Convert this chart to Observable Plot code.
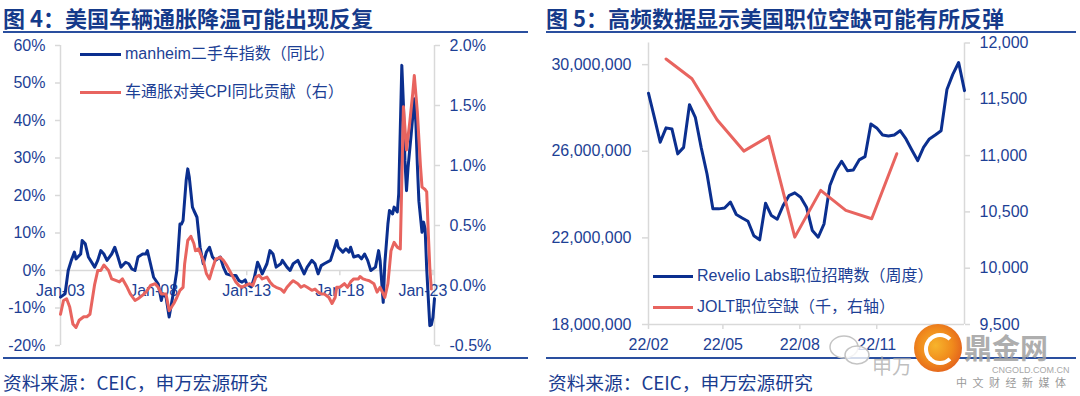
<!DOCTYPE html>
<html>
<head>
<meta charset="utf-8">
<script src="https://cdn.jsdelivr.net/npm/d3@7"></script>
<script src="https://cdn.jsdelivr.net/npm/@observablehq/plot@0.6"></script>
<style>
  html, body { margin: 0; padding: 0; background: #fff; }
  #wrap { position: relative; width: 1080px; height: 396px; overflow: hidden; background: #fff;
          font-family: "Liberation Sans", "Noto Sans CJK SC", Arial, sans-serif; }
  .title { position: absolute; top: 5px; font-family: "Noto Sans CJK SC", sans-serif; font-weight: 700;
           font-size: 22px; line-height: 24px; color: #153a8a; white-space: nowrap; }
  .rule { position: absolute; height: 2px; background: #2a4f9f; }
  .foot { position: absolute; top: 372px; font-family: "Noto Sans CJK SC", sans-serif; font-size: 18.7px;
          line-height: 20px; color: #1a3c8f; white-space: nowrap; }
  .chart { position: absolute; top: 35px; }
  .chart svg { overflow: visible; }
  .leg { position: absolute; font-size: 16px; line-height: 20px; color: #1d3f95; white-space: nowrap;
         font-family: "Liberation Sans", "Noto Sans CJK SC", sans-serif; }
  .legline { position: absolute; height: 3px; }
  .wm { position: absolute; white-space: nowrap; font-family: "Liberation Sans", "Noto Sans CJK SC", sans-serif; }
</style>
</head>
<body>
<div id="wrap">
  <div class="title" style="left:3px">图 4：美国车辆通胀降温可能出现反复</div>
  <div class="title" style="left:546px">图 5：高频数据显示美国职位空缺可能有所反弹</div>
  <div class="rule" style="left:3px; width:525px; top:31px"></div>
  <div class="rule" style="left:546px; width:530px; top:31px"></div>
  <div class="rule" style="left:3px; width:525px; top:357px"></div>
  <div class="rule" style="left:546px; width:530px; top:357px"></div>
  <div id="left" class="chart" style="left:0px"></div>
  <div id="right" class="chart" style="left:540px"></div>

  <div class="legline" style="left:80px; width:41px; top:53px; background:#0b2f8f"></div>
  <div class="leg" style="left:125px; top:44px">manheim二手车指数（同比）</div>
  <div class="legline" style="left:80px; width:41px; top:91px; background:#e8645f"></div>
  <div class="leg" style="left:125px; top:82px">车通胀对美CPI同比贡献（右）</div>

  <div class="legline" style="left:653px; width:40px; top:275px; background:#0b2f8f"></div>
  <div class="leg" style="left:697px; top:266px">Revelio Labs职位招聘数（周度）</div>
  <div class="legline" style="left:653px; width:40px; top:306px; background:#e8645f"></div>
  <div class="leg" style="left:697px; top:297px">JOLT职位空缺（千，右轴）</div>

  <div class="foot" style="left:3px">资料来源：CEIC，申万宏源研究</div>
  <div class="foot" style="left:548px">资料来源：CEIC，申万宏源研究</div>

  <!-- watermark -->
  <svg class="wm" style="left:828px; top:334px" width="44" height="34">
    <ellipse cx="16" cy="13" rx="14" ry="11" fill="none" stroke="#c4c4c4" stroke-width="1.5"/>
    <ellipse cx="29" cy="21" rx="12" ry="9" fill="rgba(255,255,255,0.8)" stroke="#c4c4c4" stroke-width="1.5"/>
  </svg>
  <div class="wm" style="left:872px; top:357px; font-size:20px; line-height:20px; color:rgba(170,170,170,0.75)">申万</div>
  <div class="wm" style="left:914px; top:324px; width:48px; height:48px; border-radius:50%;
       background:radial-gradient(circle at 45% 45%, #f7b42c 0%, #f08a1c 45%, #d9431e 100%)"></div>
  <div class="wm" style="left:924px; top:333px; width:24px; height:24px; border-radius:50%; border:4px solid #fff; border-right-color:transparent"></div>
  <div class="wm" style="left:964px; top:336px; font-size:28px; line-height:28px; font-weight:700; color:rgba(160,160,160,0.85)">鼎金网</div>
  <div class="wm" style="left:992px; top:366px; font-size:9px; line-height:9px; color:#a8a8a8">CNGOLD.COM.CN</div>
  <div class="wm" style="left:956px; top:378px; font-size:11px; line-height:11px; color:#9a9a9a; letter-spacing:5.5px">中文财经新媒体</div>
</div>

<script>
// ---------------- Figure 4 data (monthly) ----------------
const manheimMonths = [
  "2003-01","2003-04","2003-06","2003-08","2003-10","2003-11","2004-02","2004-03","2004-05","2004-07",
  "2004-11","2005-01","2005-03","2005-05","2005-07","2005-10","2005-12","2006-02","2006-04","2006-07",
  "2006-09","2006-11","2007-01","2007-03","2007-06","2007-08","2007-09","2007-11","2008-01","2008-04",
  "2008-06","2008-07","2008-09","2008-11","2009-02","2009-04","2009-06","2009-07","2009-08","2009-10",
  "2009-11","2009-12","2010-02","2010-03","2010-05","2010-07","2010-09","2010-11","2011-01","2011-03",
  "2011-05","2011-08","2011-10","2011-12","2012-03","2012-06","2012-08","2012-10","2012-12","2013-01",
  "2013-04","2013-06","2013-08","2013-09","2013-11","2014-02","2014-04","2014-06","2014-08","2014-11",
  "2014-12","2015-03","2015-05","2015-07","2015-10","2015-11","2016-02","2016-04","2016-07","2016-09",
  "2016-11","2017-01","2017-03","2017-07","2017-09","2017-11","2017-12","2018-03","2018-05","2018-07",
  "2018-08","2018-10","2019-01","2019-03","2019-05","2019-07","2019-09","2019-12","2020-02","2020-03",
  "2020-05","2020-06","2020-08","2020-09","2020-11","2020-12","2021-02","2021-03","2021-05","2021-06",
  "2021-07","2021-08","2021-09","2021-11","2022-01","2022-02","2022-03","2022-04","2022-06","2022-07",
  "2022-08","2022-09","2022-10","2022-11","2022-12","2023-01","2023-02"
];
const manheimYoY = [
  -7.1,-6.2,0,2.7,4.9,3.1,4.4,8.0,7.1,3.6,
  0.9,2.7,5.3,4.4,2.7,4.4,6.2,3.6,0.9,2.2,
  1.8,0.4,0,3.6,4.4,4.4,5.3,1.8,-1.8,-3.6,
  -8.0,-6.2,-7.1,-12.4,-5.3,0,12.4,12.4,13.3,24.0,
  27.1,24.9,16.9,16.0,14.2,6.2,1.8,4.9,6.2,3.6,
  2.7,3.6,0.9,-0.9,-1.3,-1.3,-2.7,-3.1,-2.5,-3.6,
  -4.4,-1.8,2.2,1.3,-0.9,1.8,5.3,4.4,0.9,1.8,
  2.7,0.9,0,1.8,2.7,1.8,-0.9,0.9,2.7,1.8,
  -0.9,1.3,1.8,2.7,5.3,8.0,6.2,4.9,5.8,4.9,
  6.2,3.6,4.0,3.1,4.4,2.7,0,0.9,5.3,2.7,
  -8.5,1.8,12.4,16.0,15.1,16.9,15.6,20.4,54.7,44.4,
  29.3,21.3,27.6,36.4,45.8,39.2,28.4,18.5,10.2,12.9,
  11.1,0.5,-7.1,-14.7,-14.5,-12.5,-7.5
];
const cpiMonths = [
  "2003-01","2003-03","2003-05","2003-07","2003-09","2003-11","2004-01","2004-04","2004-06","2004-08",
  "2004-11","2005-01","2005-03","2005-05","2005-08","2005-10","2006-01","2006-03","2006-05","2006-08",
  "2006-10","2007-01","2007-03","2007-06","2007-07","2007-09","2007-11","2008-02","2008-04","2008-06",
  "2008-09","2008-11","2009-02","2009-04","2009-06","2009-08","2009-09","2009-11","2010-01","2010-03",
  "2010-04","2010-06","2010-09","2010-11","2011-01","2011-03","2011-05","2011-08","2011-10","2011-12",
  "2012-03","2012-06","2012-08","2012-10","2012-12","2013-03","2013-05","2013-07","2013-09","2013-11",
  "2014-02","2014-04","2014-06","2014-08","2014-11","2015-01","2015-03","2015-05","2015-07","2015-10",
  "2015-12","2016-02","2016-04","2016-07","2016-09","2016-11","2017-01","2017-03","2017-06","2017-08",
  "2017-10","2017-11","2018-01","2018-04","2018-06","2018-08","2018-10","2019-01","2019-02","2019-04",
  "2019-06","2019-08","2019-11","2020-01","2020-03","2020-05","2020-06","2020-08","2020-10","2020-12",
  "2021-02","2021-04","2021-05","2021-06","2021-08","2021-10","2021-12","2022-01","2022-03","2022-05",
  "2022-06","2022-08","2022-09","2022-10","2022-11","2022-12"
];
const cpiContribution = [
  -0.24,-0.125,-0.11,-0.18,-0.32,-0.35,-0.29,-0.26,-0.26,-0.24,
  0.01,0.125,0.125,0.17,0.125,0.055,0.04,0.03,0.055,-0.015,
  -0.07,-0.125,-0.11,-0.08,-0.07,-0.04,0,0.015,-0.015,-0.07,
  -0.07,-0.21,-0.15,-0.1,-0.04,-0.015,0.18,0.375,0.41,0.35,
  0.29,0.305,0.21,0.1,0.055,0.14,0.22,0.235,0.21,0.17,
  0.1,0.03,0,-0.015,0,0.015,0,0.07,0.085,0.055,
  0.07,0.03,0,-0.015,-0.03,-0.055,-0.015,0.015,0.04,0.015,
  -0.015,0,-0.015,-0.04,-0.03,-0.055,-0.07,-0.07,-0.1,-0.15,
  -0.1,-0.015,-0.015,0.015,-0.015,0.03,0.055,0.055,0.075,0.055,
  0.047,0.04,0.015,-0.055,-0.015,-0.07,-0.1,0.015,0.29,0.36,
  0.32,0.305,0.875,1.49,1.13,1.35,1.6,1.75,1.45,1.0,
  0.82,0.8,0.78,0.45,0.15,-0.03
];
const leftXTicks = ["2003-01","2008-01","2013-01","2018-01","2023-01"];
const leftXTickLabels = ["Jan-03","Jan-08","Jan-13","Jan-18","Jan-23"];
const leftYTicks = [-20,-10,0,10,20,30,40,50,60];
const leftY2Ticks = [-0.5,0,0.5,1.0,1.5,2.0];

// ---------------- Figure 5 data ----------------
const revelioStart = "2022-02-01";            // weekly series, first week
const revelioPostingsM = [                     // millions
  28.68,27.57,26.42,27.08,27.03,25.88,26.18,28.15,27.57,26.18,
  24.95,23.34,23.34,23.38,23.65,23.08,22.92,22.77,22.10,21.91,
  23.60,23.03,22.86,23.49,23.95,24.08,23.88,23.42,22.34,22.03,
  22.65,24.42,25.10,25.54,25.10,25.14,25.60,25.75,27.26,27.08,
  26.75,26.71,26.75,26.95,26.57,26.06,25.57,26.18,26.57,26.75,
  26.95,28.85,29.55,30.10,28.80
];
const joltDates = ["2022-02-22","2022-03-25","2022-04-24","2022-05-26","2022-06-25",
                   "2022-07-26","2022-08-26","2022-09-25","2022-10-26","2022-11-25"];
const joltOpenings = [11858,11683,11319,11040,11171,10276,10691,10513,10439,11017];
const rightXTicks = ["2022-02-01","2022-05-01","2022-08-01","2022-11-01"];
const rightYTicks = [18000000,22000000,26000000,30000000];
const rightY2Ticks = [9500,10000,10500,11000,11500,12000];

// ---------------- styling ----------------
const BLUE = "#0b2f8f", RED = "#e8645f", GREY = "#d9d9d9", TXT = "#1d3f95";
const parseM = d3.utcParse("%Y-%m");
const parseD = d3.utcParse("%Y-%m-%d");
const baseStyle = {fontFamily: "'Liberation Sans', Arial, sans-serif", fontSize: "16px", background: "transparent", overflow: "visible"};

// ---------------- Figure 4 ----------------
const cpiToLeft = v => -20 + (v + 0.5) * 32;      // right axis [-0.5,2.0] -> left axis [-20,60]
const manheim = manheimMonths.map((m, i) => ({date: parseM(m), value: manheimYoY[i]}));
const cpi = cpiMonths.map((m, i) => ({date: parseM(m), value: cpiToLeft(cpiContribution[i])}));
const lx0 = parseM("2003-01"), lx1 = parseM("2023-02");
const xTickRows = leftXTicks.map((d, i) => ({date: parseM(d), label: leftXTickLabels[i]}));

const leftPlot = Plot.plot({
  width: 540, height: 320,
  marginTop: 10, marginBottom: 10, marginLeft: 60, marginRight: 106,
  style: baseStyle,
  x: {type: "utc", domain: [lx0, lx1], label: null, axis: null},
  y: {domain: [-20, 60], label: null},
  marks: [
    Plot.ruleY([0], {stroke: GREY, strokeWidth: 1.5}),
    Plot.ruleX([lx0, lx1], {stroke: GREY, strokeWidth: 1.5}),
    Plot.ruleX(xTickRows, {x: "date", y1: 0, y2: -1.4, stroke: GREY, strokeWidth: 1.5}),
    Plot.axisY(leftYTicks, {anchor: "left", tickSize: 5, tickPadding: 10, stroke: GREY, strokeWidth: 1.5,
      fill: TXT, fontSize: 16, tickFormat: d => d + "%"}),
    Plot.axisY(leftY2Ticks.map(cpiToLeft), {anchor: "right", tickSize: 5, tickPadding: 10, stroke: GREY, strokeWidth: 1.5,
      fill: TXT, fontSize: 16, tickFormat: d => ((d + 20) / 32 - 0.5).toFixed(1) + "%"}),
    Plot.text(xTickRows.slice(0, -1), {x: "date", y: () => 0, dy: 20, text: "label", fill: TXT, fontSize: 16}),
    Plot.text(xTickRows.slice(-1), {x: "date", y: () => 0, dy: 20, dx: -10, text: "label", fill: TXT, fontSize: 16}),
    Plot.line(manheim, {x: "date", y: "value", stroke: BLUE, strokeWidth: 3, strokeLinejoin: "round"}),
    Plot.line(cpi, {x: "date", y: "value", stroke: RED, strokeWidth: 3, strokeLinejoin: "round"})
  ]
});
document.getElementById("left").appendChild(leftPlot);

// ---------------- Figure 5 ----------------
const R0 = 18000000, R1 = 31000000;
const joltToLeft = v => R0 + (v - 9500) / 2500 * (R1 - R0);
const rStart = parseD(revelioStart);
const revelio = revelioPostingsM.map((v, i) => ({date: d3.utcDay.offset(rStart, 7 * i), value: v * 1e6}));
const jolt = joltDates.map((d, i) => ({date: parseD(d), value: joltToLeft(joltOpenings[i])}));
const rx0 = rStart, rx1 = revelio[revelio.length - 1].date;
const fmtComma = d3.format(",");

const rightPlot = Plot.plot({
  width: 540, height: 320,
  marginTop: 7.5, marginBottom: 31, marginLeft: 108, marginRight: 116,
  style: baseStyle,
  x: {type: "utc", domain: [rx0, rx1], label: null},
  y: {domain: [R0, R1], label: null},
  marks: [
    Plot.ruleY([R0], {stroke: GREY, strokeWidth: 1.5}),
    Plot.ruleX([rx0, rx1], {stroke: GREY, strokeWidth: 1.5}),
    Plot.axisX(rightXTicks.map(parseD), {anchor: "bottom", tickSize: 5, tickPadding: 9, stroke: GREY, strokeWidth: 1.5,
      fill: TXT, fontSize: 16, tickFormat: d3.utcFormat("%y/%m")}),
    Plot.axisY(rightYTicks, {anchor: "left", tickSize: 6, tickPadding: 11, stroke: GREY, strokeWidth: 1.5,
      fill: TXT, fontSize: 16, tickFormat: fmtComma}),
    Plot.axisY(rightY2Ticks.map(joltToLeft), {anchor: "right", tickSize: 5, tickPadding: 10, stroke: GREY, strokeWidth: 1.5,
      fill: TXT, fontSize: 16, tickFormat: d => fmtComma(Math.round(9500 + (d - R0) / (R1 - R0) * 2500))}),
    Plot.line(revelio, {x: "date", y: "value", stroke: BLUE, strokeWidth: 3, strokeLinejoin: "round"}),
    Plot.line(jolt, {x: "date", y: "value", stroke: RED, strokeWidth: 3, strokeLinejoin: "round"})
  ]
});
document.getElementById("right").appendChild(rightPlot);
</script>
</body>
</html>
